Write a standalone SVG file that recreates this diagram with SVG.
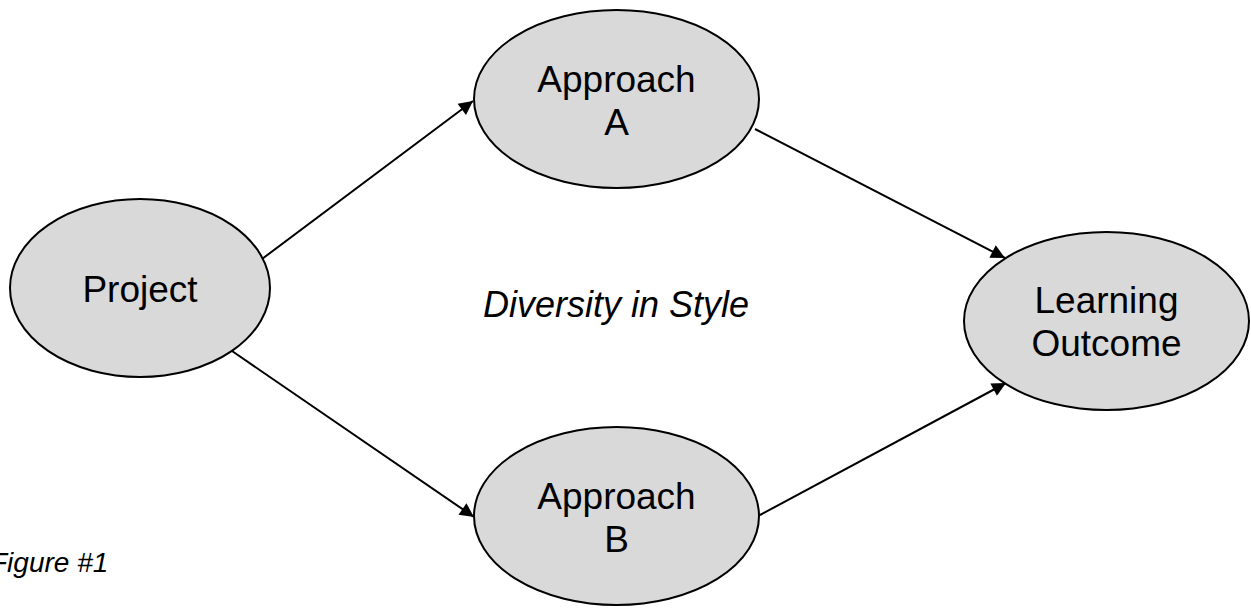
<svg xmlns="http://www.w3.org/2000/svg" width="1251" height="611" viewBox="0 0 1251 611">
<style>
.node{fill:#d9d9d9;stroke:#000;stroke-width:2}
.lbl{font-family:"Liberation Sans",Arial,sans-serif;font-size:37px;fill:#000;text-anchor:middle}
.it{font-family:"Liberation Sans",Arial,sans-serif;font-style:italic;fill:#000}
.conn line{stroke:#000;stroke-width:2;marker-end:url(#arr)}
</style>
<defs>
<marker id="arr" viewBox="0 0 10 10" refX="10" refY="5" markerWidth="9" markerHeight="7" markerUnits="strokeWidth" orient="auto">
<path d="M0,0 L10,5 L0,10 z" fill="#000"/>
</marker>
</defs>
<rect width="1251" height="611" fill="#fff"/>
<g id="connectors" class="conn">
<line x1="262" y1="259" x2="473" y2="101"/>
<line x1="755" y1="129" x2="1005" y2="258"/>
<line x1="232" y1="351" x2="474" y2="517"/>
<line x1="760" y1="515" x2="1006" y2="383"/>
</g>
<g id="project">
<ellipse class="node" cx="140" cy="288" rx="130" ry="89"/>
<text class="lbl" x="140" y="302">Project</text>
</g>
<g id="approach-a">
<ellipse class="node" cx="616.5" cy="99" rx="142.5" ry="89"/>
<text class="lbl" x="616.5" y="92">Approach</text>
<text class="lbl" x="616.5" y="135">A</text>
</g>
<g id="approach-b">
<ellipse class="node" cx="616.5" cy="516" rx="142.5" ry="89"/>
<text class="lbl" x="616.5" y="509">Approach</text>
<text class="lbl" x="616.5" y="552">B</text>
</g>
<g id="learning-outcome">
<ellipse class="node" cx="1106.5" cy="321" rx="142.5" ry="89"/>
<text class="lbl" x="1106.5" y="313">Learning</text>
<text class="lbl" x="1106.5" y="356">Outcome</text>
</g>
<text class="it" x="483" y="317" font-size="36">Diversity in Style</text>
<text class="it" x="-10" y="572" font-size="28">Figure #1</text>
</svg>
